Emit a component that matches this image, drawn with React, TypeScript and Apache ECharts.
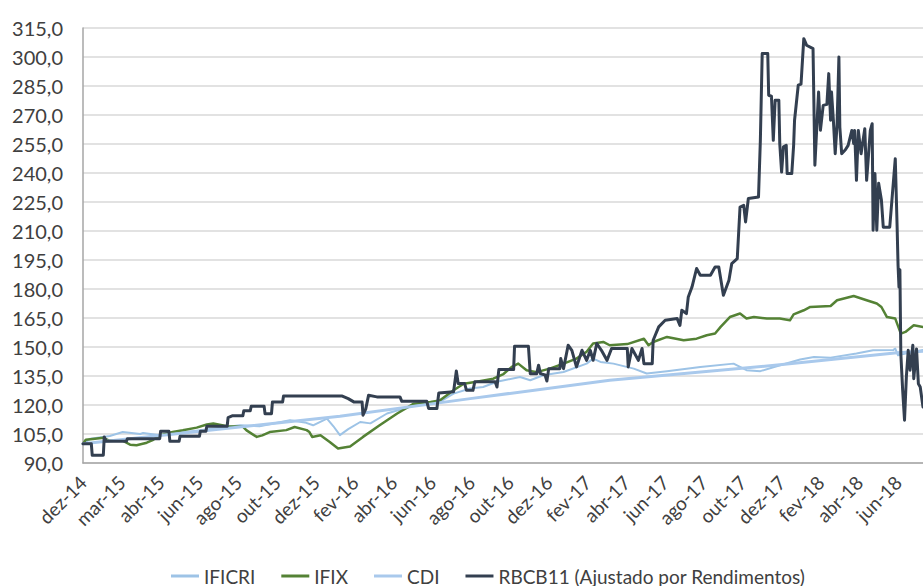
import React, { useEffect, useRef } from "react";
import * as echarts from "echarts";

// x = trading-day index since the start (dez-14); a tick label every 42 trading days
const tickLabels = [
  "dez-14", "mar-15", "abr-15", "jun-15", "ago-15", "out-15", "dez-15", "fev-16",
  "abr-16", "jun-16", "ago-16", "out-16", "dez-16", "fev-17", "abr-17", "jun-17",
  "ago-17", "out-17", "dez-17", "fev-18", "abr-18", "jun-18",
];
const labelStep = 42;
const lastDay = 909;

const seriesNames = ["IFICRI", "IFIX", "CDI", "RBCB11 (Ajustado por Rendimentos)"];

const ificri: [number, number][] = [
  [0, 100], [8, 102.6], [29, 104], [43, 106], [62, 105], [65, 105.5], [83, 104.3],
  [127, 107], [170, 109.5], [191, 109], [224, 112.1], [240, 111], [249, 109.5],
  [264, 113], [271, 109], [278, 104.4], [287, 107.5], [300, 111.2], [311, 110.5],
  [329, 115.6], [347, 118.2], [365, 120.5], [386, 121.6], [401, 125.9], [419, 128.5],
  [433, 129.3], [448, 132], [473, 134.5], [484, 132.8], [498, 135.4], [520, 137.1],
  [545, 141.4], [552, 144], [560, 142.3], [574, 141.4], [596, 138.8], [610, 136.3],
  [632, 137.5], [668, 139.7], [704, 141.4], [718, 138], [733, 137.5], [747, 139.5],
  [776, 143.5], [791, 144.8], [809, 144.5], [837, 146.6], [855, 148.3], [877, 148.5],
  [879, 149.2], [882, 145.7], [890, 146.6], [909, 148.5],
];

const ifix: [number, number][] = [
  [0, 100], [3, 102], [13, 102.6], [22, 103], [29, 101.5], [43, 101.5], [51, 99.5],
  [58, 99.2], [69, 100.5], [76, 102], [83, 104.3], [97, 106], [108, 106.9], [123, 108.3],
  [134, 109.9], [141, 110.4], [156, 109], [173, 108.8], [177, 106.9], [188, 103.5],
  [194, 104.3], [202, 106], [220, 107], [229, 108.6], [242, 107], [245, 106], [248, 103.5],
  [257, 104.3], [267, 100.9], [276, 97.5], [289, 98.5], [303, 103.5], [321, 109.5],
  [340, 115.6], [358, 120.7], [376, 121.6], [386, 122.3], [401, 127.6], [412, 131],
  [426, 132], [444, 133.6], [455, 136], [464, 139.7], [471, 141.4], [480, 138], [491, 137],
  [505, 138.8], [520, 141.4], [534, 144], [545, 147.5], [552, 151.8], [563, 152.6],
  [570, 150.9], [589, 151.5], [607, 154.3], [612, 150.9], [617, 152.6], [632, 155.2],
  [650, 153.5], [664, 154.3], [675, 156.1], [684, 157], [690, 160.4], [700, 165.5],
  [711, 167.3], [718, 164.7], [726, 165.5], [740, 164.7], [754, 164.7], [765, 163.8],
  [769, 166.9], [780, 169], [787, 170.7], [809, 171.2], [816, 174.2], [834, 176.4],
  [848, 174.2], [859, 172.5], [864, 170.7], [870, 165.5], [879, 164.7], [885, 156.9],
  [890, 157.8], [899, 161.2], [909, 160.4],
];

const cdi: [number, number][] = [
  [0, 100], [278, 114.2], [419, 123.3], [570, 132.8], [754, 140.8], [881, 147], [909, 147.8],
];

const rbcb11: [number, number][] = [
  [0, 100], [9, 100], [10, 94], [22, 94], [23, 103.5], [25, 101.2], [47, 101.2],
  [48, 102.6], [83, 102.6], [84, 106.4], [93, 106.4], [94, 101.2], [104, 101.2],
  [105, 103.8], [126, 103.8], [127, 106.4], [133, 106.4], [134, 109], [156, 109],
  [157, 113.5], [162, 114.5], [173, 114.5], [174, 117], [181, 117], [182, 119.3],
  [196, 119.3], [197, 115.5], [204, 115.5], [205, 121.6], [216, 121.6], [217, 124.7],
  [280, 124.7], [287, 123.3], [293, 121.6], [302, 121.6], [303, 114.7], [306, 118],
  [309, 125], [318, 124.2], [343, 124.2], [345, 121.9], [372, 121.9], [374, 118.2],
  [383, 118.2], [385, 126.2], [401, 126.8], [404, 137.6], [406, 131.1], [413, 131.1],
  [415, 127.6], [422, 127.6], [424, 132], [446, 132], [448, 129.3], [450, 138.3],
  [466, 138.3], [467, 150.4], [482, 150.4], [484, 136.2], [491, 136.2], [493, 140.6],
  [495, 136.2], [500, 135.5], [502, 132.4], [504, 138.8], [516, 138.8], [517, 144],
  [520, 138.8], [525, 150.9], [529, 148.3], [534, 139.7], [540, 148.3], [545, 143.1],
  [549, 148.3], [552, 143.1], [556, 151.8], [561, 148.3], [567, 143.1], [572, 149.2],
  [589, 149.2], [590, 139.7], [594, 149.2], [601, 143.1], [605, 149.2], [607, 141.4],
  [616, 141.4], [617, 153.5], [623, 160.4], [630, 163.8], [643, 164.7], [646, 161.2],
  [648, 169], [653, 167.3], [655, 175.9], [659, 181], [664, 190.6], [668, 187.1],
  [679, 187.1], [684, 191.4], [688, 191.4], [693, 176.8], [699, 184.5], [702, 193.1],
  [708, 195.7], [711, 222.4], [715, 223.3], [717, 214.7], [720, 226.8], [731, 227.6],
  [733, 256.9], [735, 301.8], [741, 301.8], [742, 280.2], [745, 279.7], [747, 256.9],
  [749, 277.6], [753, 277.6], [754, 255.2], [756, 240.5], [758, 253.5], [761, 254.3],
  [762, 239.7], [767, 239.7], [769, 254.3], [770, 267.3], [774, 285.4], [777, 286],
  [780, 309.5], [783, 306.1], [790, 304.3], [792, 244], [796, 281.9], [798, 262.1],
  [801, 275], [805, 275.5], [807, 291.4], [809, 267.3], [810, 281.9], [812, 267.3],
  [814, 250], [816, 265], [818, 300], [819, 263.8], [821, 250], [825, 252], [828, 254.3],
  [832, 262], [834, 255.2], [835, 262], [837, 236.2], [839, 262], [842, 250],
  [846, 262.9], [848, 236.2], [852, 262], [854, 265.5], [855, 210.4], [857, 239.7],
  [859, 210.4], [861, 234.7], [864, 226], [866, 212], [873, 212], [879, 247.4],
  [881, 212.1], [882, 192.3], [883, 181], [884, 190], [885, 146.6], [887, 127.6],
  [889, 112.1], [891, 134.5], [893, 148.3], [895, 138], [898, 150.9], [899, 133.6],
  [902, 149], [904, 131], [906, 129.3], [909, 119],
];

const yMin = 90;
const yMax = 315;
const yStep = 15;

export default function App() {
  const ref = useRef<HTMLDivElement>(null);
  useEffect(() => {
    if (!ref.current) return;
    const chart = echarts.init(ref.current, undefined, { renderer: "svg" });
    const font = "Lato, 'Noto Sans', sans-serif";
    const textColor = "#404040";
    const colors = ["#9DC3E6", "#548235", "#A9C9EC", "#333F50"];
    const widths = [2, 2.5, 3, 3];
    const datasets = [ificri, ifix, cdi, rbcb11];
    chart.setOption({
      animation: false,
      backgroundColor: "#ffffff",
      grid: { left: 83, right: 0, top: 28, bottom: 123 },
      legend: {
        left: 166,
        top: 560,
        icon: "rect",
        itemWidth: 28,
        itemHeight: 3,
        itemGap: 26,
        textStyle: { fontFamily: font, fontSize: 19, color: textColor, lineHeight: 22 },
        data: seriesNames,
      },
      xAxis: {
        type: "value",
        min: 0,
        max: lastDay,
        interval: labelStep,
        axisLine: { show: true, lineStyle: { color: "#A6A6A6", width: 1.5 } },
        axisTick: { show: false },
        splitLine: { show: false },
        axisLabel: {
          rotate: 45,
          margin: 16,
          fontFamily: font,
          fontSize: 19,
          color: textColor,
          showMaxLabel: false,
          formatter: (v: number) => {
            const i = v / labelStep;
            return Number.isInteger(i) && tickLabels[i] ? tickLabels[i] : "";
          },
        },
      },
      yAxis: {
        type: "value",
        min: yMin,
        max: yMax,
        interval: yStep,
        axisLine: { show: true, lineStyle: { color: "#A6A6A6", width: 1.5 } },
        axisTick: { show: false },
        splitLine: { show: true, lineStyle: { color: "#D9D9D9", width: 1.5 } },
        axisLabel: {
          margin: 20,
          fontFamily: font,
          fontSize: 20,
          color: textColor,
          formatter: (v: number) => v.toFixed(1).replace(".", ","),
        },
      },
      series: seriesNames.map((name, i) => ({
        name,
        type: "line",
        data: datasets[i],
        symbol: "none",
        showSymbol: false,
        itemStyle: { color: colors[i] },
        lineStyle: { color: colors[i], width: widths[i], join: "round", cap: "round" },
        z: 2 + i,
      })),
    });
    return () => chart.dispose();
  }, []);
  return (
    <div
      ref={ref}
      style={{ position: "absolute", left: 0, top: 0, width: 923, height: 586 }}
    />
  );
}
